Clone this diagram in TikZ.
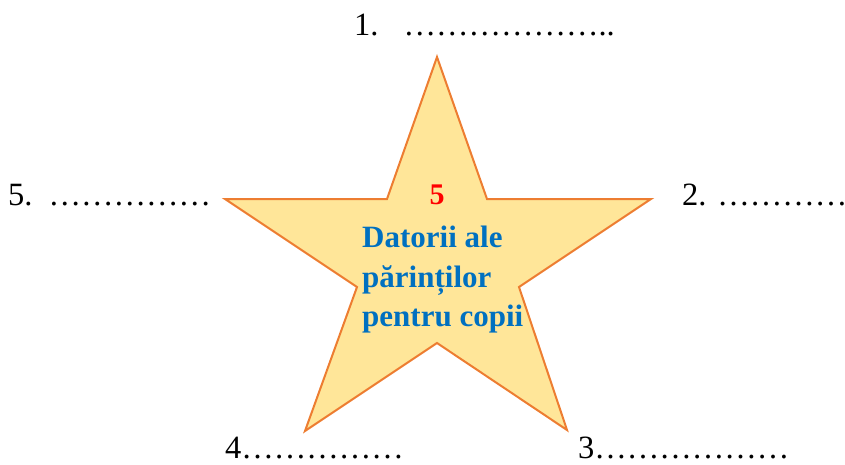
\documentclass[tikz,border=0pt]{standalone}
\usepackage{fontspec}
\setmainfont{Liberation Serif}
\definecolor{starfill}{HTML}{FFE699}
\definecolor{starline}{HTML}{ED7D31}
\definecolor{txtblue}{HTML}{0070C0}
\begin{document}
\begin{tikzpicture}[x=1pt,y=-1pt,
  lbl/.style={anchor=base west, inner sep=0pt, font=\fontsize{32.5}{36}\selectfont},
  startxt/.style={anchor=base west, inner sep=0pt, text=txtblue, font=\fontsize{31}{39}\selectfont\bfseries, align=left},
  numtxt/.style={anchor=base, inner sep=0pt, text=red, font=\fontsize{30}{34}\selectfont\bfseries},
  starshape/.style={draw=starline, fill=starfill, line width=2pt, line join=miter}]
\useasboundingbox (0,0) rectangle (845,464);
\path[starshape] (437,57) -- (487,199) -- (651,199) -- (519,287) -- (567,430) -- (437,343)
  -- (305,431) -- (357,287) -- (225,199) -- (387,199) -- cycle;
\node[numtxt] (num) at (437,204) {5};
\node[startxt] (t1) at (362,247) {Datorii ale};
\node[startxt] (t2) at (362,287) {părinților};
\node[startxt] (t3) at (362,326) {pentru copii};
\node[lbl] (l1) at (354,35) {1.\hspace{25pt}………………..};
\node[lbl] (l2) at (682,205) {2. …………};
\node[lbl] (l3) at (578,458) {3………………};
\node[lbl] (l4) at (225,458) {4……………};
\node[lbl] (l5) at (8,205) {5.\hspace{16pt}……………};
\end{tikzpicture}
\end{document}
